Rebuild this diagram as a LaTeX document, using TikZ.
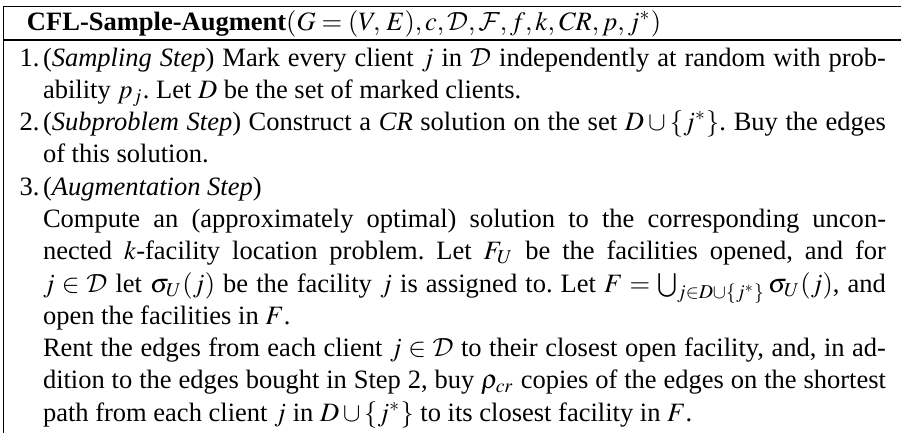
\documentclass[tikz,border=0pt]{standalone}
\usepackage{mathptmx}
\usepackage[no-math]{fontspec}
\setmainfont{Liberation Serif}
\DeclareMathAlphabet{\mathcal}{OMS}{cmsy}{m}{n}
\newcommand\algfont{\fontsize{10.1pt}{12.3pt}\selectfont\frenchspacing\lineskiplimit=-6pt\relax}
\begin{document}
\begin{tikzpicture}[x=0.380952pt,y=-0.380952pt,
  boxrule/.style={line width=0.7pt},
  sideline/.style={line width=0.55pt},
  txt/.style={inner sep=0pt,outer sep=0pt,anchor=base west,font=\algfont},
  steplabel/.style={txt,anchor=base east},
  itembody/.style={txt,text width=321.14pt,align=justify}]
\useasboundingbox (0,0) rectangle (901,433);

% frame: two horizontal rules and the left side
\draw[boxrule] (3,6.5) -- (901,6.5);
\draw[boxrule] (3,40) -- (901,40);
\draw[sideline] (3.3,6) -- (3.3,433);

% heading
\node[txt] (title) at (27,30)
  {\textbf{CFL-Sample-Augment}$(G=(V,\,E),c,\mathcal{D},\mathcal{F},f,k,\mathit{CR},p,j^*)$};

% step 1
\node[steplabel] (n1) at (39.5,66) {1.};
\node[itembody] (s1) at (43,66)
  {(\textit{Sampling Step}) Mark every client $j$ in $\mathcal{D}$ independently at random with prob-\linebreak
   ability $p_j$. Let $D$ be the set of marked clients.};

% step 2
\node[steplabel] (n2) at (39.5,130.6) {2.};
\node[itembody] (s2) at (43,130.6)
  {(\textit{Subproblem Step}) Construct a \textit{CR} solution on the set $D\cup\{j^*\}$. Buy the edges\linebreak
   of this solution.};

% step 3
\node[steplabel] (n3) at (39.5,195.2) {3.};
\node[itembody] (s3) at (43,195.2)
  {(\textit{Augmentation Step})\\
   Compute an (approximately optimal) solution to the corresponding uncon-\linebreak
   nected $k$-facility location problem. Let $F_U$ be the facilities opened, and for\linebreak
   $j\in\mathcal{D}$ let $\sigma_U(j)$ be the facility $j$ is assigned to. Let $F=\bigcup_{j\in D\cup\{j^*\}}\sigma_U(j)$, and\linebreak
   open the facilities in $F$.\\
   Rent the edges from each client $j\in\mathcal{D}$ to their closest open facility, and, in ad-\linebreak
   dition to the edges bought in Step 2, buy $\rho_{cr}$ copies of the edges on the shortest\linebreak
   path from each client $j$ in $D\cup\{j^*\}$ to its closest facility in $F$.};
\end{tikzpicture}
\end{document}
